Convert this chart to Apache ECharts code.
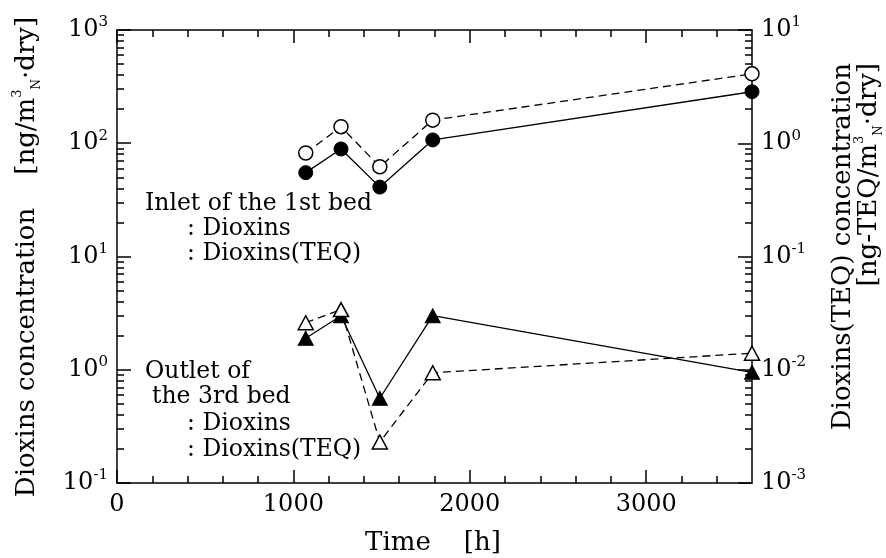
<!DOCTYPE html>
<html>
<head>
<meta charset="utf-8">
<script src="https://cdn.jsdelivr.net/npm/echarts@6/dist/echarts.min.js"></script>
<style>html,body{margin:0;padding:0;background:#fff;}#c{width:886px;height:558px;}</style>
</head>
<body>
<div id="c"></div>
<script>
// ---- data ----
const timeH = [1070, 1270, 1490, 1790, 3600];
const inletDioxins = [55, 89, 41, 107, 285];          // ng/m3N-dry (left axis)
const inletTEQ = [0.82, 1.40, 0.62, 1.60, 4.1];        // ng-TEQ/m3N-dry (right axis)
const outletDioxins = [1.9, 3.0, 0.56, 3.0, 0.95];     // left axis
const outletTEQ = [0.026, 0.034, 0.0023, 0.0094, 0.014]; // right axis
const xMajorTicks = [0, 1000, 2000, 3000];
const xMinorTicks = [200, 400, 600, 800, 1200, 1400, 1600, 1800, 2200, 2400, 2600, 2800, 3200, 3400];
const leftDecades = [0.1, 1, 10, 100, 1000];
const rightDecades = [0.001, 0.01, 0.1, 1, 10];

function minorOf(decs) {
  const out = [];
  for (let i = 0; i < decs.length - 1; i++) {
    for (let m = 2; m <= 9; m++) out.push(+(decs[i] * m).toPrecision(6));
  }
  return out;
}
const FONT = '"DejaVu Serif", serif';
const BLACK = '#000';
const rich = {
  b: { fontFamily: FONT, fontSize: 24, color: BLACK, lineHeight: 30 },
  s: { fontFamily: FONT, fontSize: 15, color: BLACK, verticalAlign: 'top', lineHeight: 30 }
};
function powLabel(v) {
  const e = Math.round(Math.log10(v));
  return '{b|10}{s|' + e + '}';
}
const lineAx = { show: true, onZero: false, lineStyle: { color: BLACK, width: 1.5 } };
const noLine = { show: false, onZero: false };
function xAx(pos, major) {
  return {
    type: 'value', position: pos, min: 0, max: 3600, interval: 1000,
    axisLine: major ? lineAx : noLine,
    splitLine: { show: false },
    axisTick: { show: true, inside: true, length: major ? 13 : 7, lineStyle: { color: BLACK, width: 1.5 },
      customValues: major ? xMajorTicks : xMinorTicks },
    axisLabel: (major && pos === 'bottom') ? { show: true, customValues: xMajorTicks, formatter: v => String(v),
      fontFamily: FONT, fontSize: 24, color: BLACK, margin: 10 } : { show: false }
  };
}
function yAx(pos, decs, major, showLabel) {
  return {
    type: 'log', logBase: 10, position: pos, min: decs[0], max: decs[decs.length - 1],
    axisLine: major ? lineAx : noLine,
    splitLine: { show: false },
    minorTick: { show: false },
    axisTick: { show: true, inside: true, length: major ? 14 : 7, lineStyle: { color: BLACK, width: 1.5 },
      customValues: major ? decs : minorOf(decs) },
    axisLabel: showLabel ? { show: true, customValues: decs, formatter: powLabel, rich: rich, margin: 9 } : { show: false }
  };
}

const chart = echarts.init(document.getElementById('c'), null, { renderer: 'canvas' });
const solid = { color: BLACK, width: 1.3, type: 'solid' };
const dashed = { color: BLACK, width: 1.3, type: [8, 5] };
function pairs(ys) { return timeH.map((t, i) => [t, ys[i]]); }
const txt = (t, x, y, extra) => Object.assign({
  type: 'text', x: x, y: y, silent: true,
  style: { text: t, font: '23.5px ' + FONT, fill: BLACK, align: 'left', verticalAlign: 'middle' }
}, extra || {});
const nameRich = {
  b: { fontFamily: FONT, fontSize: 26, color: BLACK, lineHeight: 32 },
  s: { fontFamily: FONT, fontSize: 13, color: BLACK, verticalAlign: 'top', lineHeight: 32 },
  n: { fontFamily: FONT, fontSize: 12, color: BLACK, verticalAlign: 'bottom', lineHeight: 26 }
};

chart.setOption({
  animation: false,
  backgroundColor: '#fff',
  grid: { left: 117, right: 134, top: 30, bottom: 75, containLabel: false, outerBoundsMode: 'none' },
  xAxis: [xAx('bottom', true), xAx('bottom', false), xAx('top', true), xAx('top', false)],
  yAxis: [yAx('left', leftDecades, true, true), yAx('left', leftDecades, false, false),
          yAx('right', rightDecades, true, true), yAx('right', rightDecades, false, false)],
  series: [
    { name: 'Inlet Dioxins', type: 'line', xAxisIndex: 0, yAxisIndex: 0, data: pairs(inletDioxins),
      symbol: 'circle', symbolSize: 14, lineStyle: solid, itemStyle: { color: BLACK, borderColor: BLACK, borderWidth: 1 }, z: 3 },
    { name: 'Inlet Dioxins(TEQ)', type: 'line', xAxisIndex: 0, yAxisIndex: 2, data: pairs(inletTEQ),
      symbol: 'circle', symbolSize: 14, lineStyle: dashed, itemStyle: { color: '#fff', borderColor: BLACK, borderWidth: 1.5 }, z: 3 },
    { name: 'Outlet Dioxins', type: 'line', xAxisIndex: 0, yAxisIndex: 0, data: pairs(outletDioxins),
      symbol: 'triangle', symbolSize: [15, 14], lineStyle: solid, itemStyle: { color: BLACK, borderColor: BLACK, borderWidth: 1 }, z: 3 },
    { name: 'Outlet Dioxins(TEQ)', type: 'line', xAxisIndex: 0, yAxisIndex: 2, data: pairs(outletTEQ),
      symbol: 'triangle', symbolSize: [15, 14], lineStyle: dashed, itemStyle: { color: '#fff', borderColor: BLACK, borderWidth: 1.5 }, z: 3 }
  ],
  graphic: [
    txt('Inlet of the 1st bed', 145, 204),
    txt(': Dioxins', 187, 229),
    txt(': Dioxins(TEQ)', 187, 254),
    txt('Outlet of', 145, 372),
    txt('the 3rd bed', 152, 397),
    txt(': Dioxins', 187, 424),
    txt(': Dioxins(TEQ)', 187, 450),
    { type: 'text', x: 433, y: 543, silent: true,
      style: { text: 'Time    [h]', font: '26px ' + FONT, fill: BLACK, align: 'center', verticalAlign: 'middle' } },
    { type: 'text', x: 27, y: 257, rotation: Math.PI / 2, silent: true,
      style: { text: '{b|Dioxins concentration    [ng/m}{s|3}{n|N}{b|·dry]}', align: 'center', verticalAlign: 'middle', rich: nameRich } },
    { type: 'text', x: 843, y: 63, rotation: Math.PI / 2, silent: true,
      style: { text: 'Dioxins(TEQ) concentration', font: '26px ' + FONT, fill: BLACK, align: 'right', verticalAlign: 'middle' } },
    { type: 'text', x: 869, y: 63, rotation: Math.PI / 2, silent: true,
      style: { text: '{b|[ng-TEQ/m}{s|3}{n|N}{b|·dry]}', align: 'right', verticalAlign: 'middle', rich: nameRich } }
  ]
});
</script>
</body>
</html>
